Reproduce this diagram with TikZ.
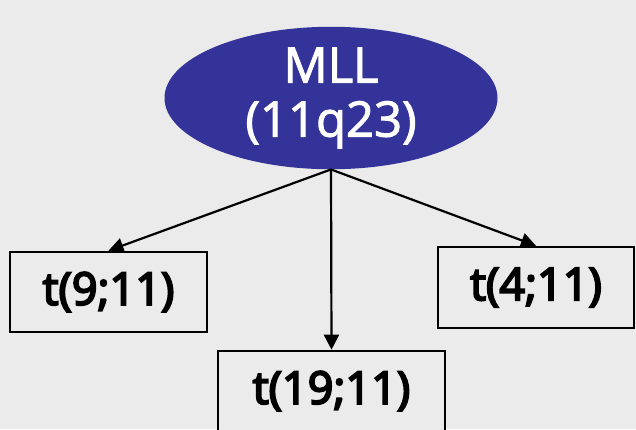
\documentclass[tikz,border=0pt]{standalone}
\usepackage{fontspec}
\setmainfont{Open Sans}
\newfontfamily\genefont{Open Sans}[FakeBold=2]
\newfontfamily\boxfont{Open Sans}[FakeBold=4.5]
\usetikzlibrary{shapes.geometric,arrows.meta}
\definecolor{mllblue}{HTML}{333399}
\definecolor{bggray}{HTML}{EBEBEB}
\tikzset{
  gene/.style={ellipse, fill=mllblue, text=white, align=center, inner sep=0pt,
    minimum width=333pt, minimum height=121pt, font=\fontsize{49}{54}\genefont},
  transloc/.style={draw, line width=2.6pt, fill=bggray, inner sep=0pt,
    font=\fontsize{45}{52}\boxfont},
  link/.style={line width=2.2pt, -{Triangle[length=15pt, width=15pt]}}
}
\begin{document}
\begin{tikzpicture}[x=1pt, y=-1pt]
  \fill[bggray] (0,0) rectangle (636,429);
  \useasboundingbox (0,0) rectangle (636,429);
  \node[gene] (mll) at (331,98) {MLL\\(11q23)};
  \node[transloc, minimum width=197pt, minimum height=80pt] (t9) at (108.5,292) {t(9;11)};
  \node[transloc, minimum width=196pt, minimum height=81pt] (t4) at (536,287.5) {t(4;11)};
  \node[transloc, minimum width=227pt, minimum height=80pt] (t19) at (331.5,391) {t(19;11)};
  \draw[link] (mll.south) -- (t9.north);
  \draw[link] (mll.south) -- (t19.north);
  \draw[link] (mll.south) -- (t4.north);
\end{tikzpicture}
\end{document}
